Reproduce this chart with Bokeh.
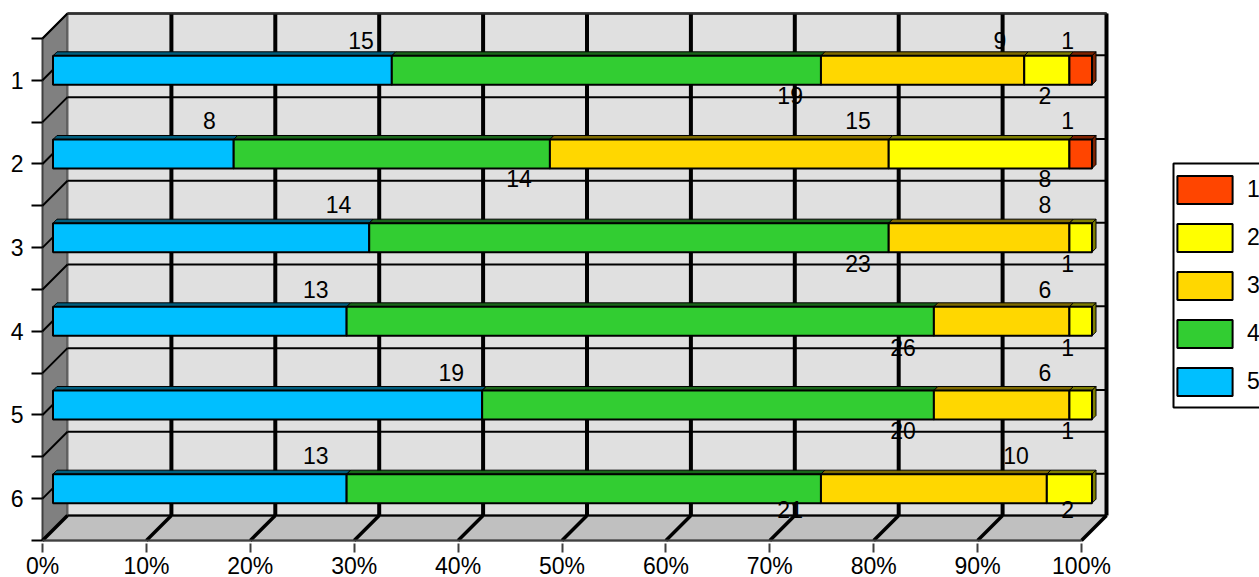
from bokeh.plotting import figure
from bokeh.models import Range1d, FixedTicker, PrintfTickFormatter, Legend, LegendItem, ColumnDataSource
from bokeh.core.properties import value
from bokeh.embed import file_html
from bokeh.resources import INLINE

categories = [1, 2, 3, 4, 5, 6]
s5 = [15, 8, 14, 13, 19, 13]
s4 = [19, 14, 23, 26, 20, 21]
s3 = [9, 15, 8, 6, 6, 10]
s2 = [2, 8, 1, 1, 1, 2]
s1 = [1, 1, 0, 0, 0, 0]
stack = [("5", s5, "#00bfff"), ("4", s4, "#32cd32"), ("3", s3, "#ffd700"), ("2", s2, "#ffff00"), ("1", s1, "#ff4500")]
legend_order = ["1", "2", "3", "4", "5"]
pct_ticks = [0, 10, 20, 30, 40, 50, 60, 70, 80, 90, 100]

# layout
W, H = 1259, 577
PXX, PXY = 10.39, 83.67
X0, Y_BOTTOM = 42, 540
def dx(px): return px / PXX
def dy(px): return px / PXY
def xd(px): return (px - X0) / PXX
def yd(px): return 6.5 - (Y_BOTTOM - px) / PXY
DEPTH_X, DEPTH_Y = dx(25), dy(25)
BAR_X, BAR_Y = dx(10.5), dy(10)
BAR_H = dy(14.5)
TOPX, TOPY = dx(4), dy(4)
above_off = [-30, -33, -33, -32, -32, -33]
below_off = [25, 25, 26, 26, 26, 21]
FONT = "Liberation Sans"
FS = "23px"

p = figure(width=W, height=H, output_backend="svg", toolbar_location=None,
           x_range=Range1d(xd(0), xd(W)), y_range=Range1d(yd(H), yd(0)),
           min_border_left=0, min_border_right=0, min_border_top=0, min_border_bottom=0)
p.grid.visible = False
p.outline_line_color = None

half = [0.5 + i for i in range(7)]
front = 6.5
top = 0.5
# walls
p.patch([0, DEPTH_X, DEPTH_X, 0], [top, top - DEPTH_Y, front - DEPTH_Y, front],
        fill_color="#808080", line_color="#404040", line_width=2)
p.patch([0, DEPTH_X, 100 + DEPTH_X, 100], [front, front - DEPTH_Y, front - DEPTH_Y, front],
        fill_color="#c0c0c0", line_color="#707070", line_width=2)
p.patch([DEPTH_X, 100 + DEPTH_X, 100 + DEPTH_X, DEPTH_X], [top - DEPTH_Y, top - DEPTH_Y, front - DEPTH_Y, front - DEPTH_Y],
        fill_color="#e0e0e0", line_color="#606060", line_width=2)

# horizontal grid, back wall + side wall
rows = half + categories
p.segment([DEPTH_X] * len(rows), [r - DEPTH_Y for r in rows], [100 + DEPTH_X] * len(rows), [r - DEPTH_Y for r in rows],
          line_color="black", line_width=2)
rows_d = half[:-1] + categories
p.segment([0] * len(rows_d), rows_d, [DEPTH_X] * len(rows_d), [r - DEPTH_Y for r in rows_d],
          line_color="black", line_width=2)
# vertical grid, back wall + floor
vt = pct_ticks[1:]
p.segment([t + DEPTH_X for t in vt], [top - DEPTH_Y] * len(vt), [t + DEPTH_X for t in vt], [front - DEPTH_Y] * len(vt),
          line_color="black", line_width=4)
p.segment(pct_ticks, [front] * 11, [t + DEPTH_X for t in pct_ticks], [front - DEPTH_Y] * 11,
          line_color="black", line_width=3.5)
p.line([0, 100], [front, front], line_color="#404040", line_width=2)
p.line([DEPTH_X, 100 + DEPTH_X], [top - DEPTH_Y, top - DEPTH_Y], line_color="#303030", line_width=2)

def shade(c, f=0.5):
    r, g, b = int(c[1:3], 16), int(c[3:5], 16), int(c[5:7], 16)
    return "#%02x%02x%02x" % (int(r * f), int(g * f), int(b * f))

totals = [sum(v[i] for _, v, _ in stack) for i in range(len(categories))]
cum = [0] * len(categories)
renderers = {}
lab_x, lab_y, lab_t, lab_off = [], [], [], []
for k, (name, vals, color) in enumerate(stack):
    L, R, T, B = [], [], [], []
    px, py = [], []
    sxs, sys = [], []
    for i, c in enumerate(categories):
        if vals[i] == 0:
            continue
        l = cum[i] / totals[i] * 100 + BAR_X
        cum[i] += vals[i]
        r = cum[i] / totals[i] * 100 + BAR_X
        yc = c - BAR_Y
        L.append(l); R.append(r); T.append(yc - BAR_H); B.append(yc + BAR_H)
        px.append([l, l + TOPX, r + TOPX, r])
        py.append([yc - BAR_H, yc - BAR_H - TOPY, yc - BAR_H - TOPY, yc - BAR_H])
        if cum[i] == totals[i]:
            sxs.append([r, r + TOPX, r + TOPX, r])
            sys.append([yc - BAR_H, yc - BAR_H - TOPY, yc + BAR_H - TOPY, yc + BAR_H])
        lab_x.append(r); lab_y.append(yc)
        lab_t.append(str(vals[i]))
        lab_off.append(above_off[i] if k % 2 == 0 else below_off[i])
    p.patches(px, py, fill_color=shade(color), line_color="black", line_width=1)
    if sxs:
        p.patches(sxs, sys, fill_color=shade(color), line_color="black", line_width=1)
    renderers[name] = p.quad(left=L, right=R, top=T, bottom=B, fill_color=color, line_color="black", line_width=2)

src = ColumnDataSource(dict(x=lab_x, y=lab_y, t=lab_t, off=lab_off))
p.text("x", "y", text="t", source=src, text_font=value(FONT), text_font_size=value(FS), text_color="black",
       text_align="right", text_baseline="middle", x_offset=-18, y_offset="off")

# legend frame
p.quad(left=[xd(1173)], right=[xd(1300)], top=[yd(163)], bottom=[yd(407)], fill_color="white",
       line_color="black", line_width=2)
legend = Legend(items=[LegendItem(label=n, renderers=[renderers[n]]) for n in legend_order],
                location=(1170, 178), orientation="vertical", padding=0, margin=0, spacing=13,
                glyph_width=69, glyph_height=35, label_standoff=8, label_text_font=FONT, label_text_font_size=FS,
                label_text_color="black", border_line_color=None, background_fill_alpha=0, click_policy="none")
p.add_layout(legend, "center")

xa = p.xaxis[0]
xa.fixed_location = front
xa.ticker = FixedTicker(ticks=pct_ticks)
xa.formatter = PrintfTickFormatter(format="%d%%")
xa.bounds = (0, 100)
xa.axis_line_color = None
xa.major_tick_in = -3
xa.major_tick_out = 12
xa.major_tick_line_color = "#404040"
xa.major_tick_line_width = 2
xa.minor_tick_line_color = None
xa.major_label_text_font = FONT
xa.major_label_text_font_size = FS
xa.major_label_text_color = "black"
xa.major_label_standoff = 0

ya = p.yaxis[0]
ya.fixed_location = 0
ya.ticker = FixedTicker(ticks=categories, minor_ticks=half)
ya.bounds = (0.5, 6.5)
ya.axis_line_color = None
ya.major_tick_in = 0
ya.major_tick_out = 11
ya.minor_tick_in = 0
ya.minor_tick_out = 11
ya.major_tick_line_color = "black"
ya.minor_tick_line_color = "black"
ya.major_tick_line_width = 2
ya.minor_tick_line_width = 2
ya.major_label_text_font = FONT
ya.major_label_text_font_size = FS
ya.major_label_text_color = "black"
ya.major_label_standoff = 8

open("out.html", "w").write(file_html(p, INLINE))
